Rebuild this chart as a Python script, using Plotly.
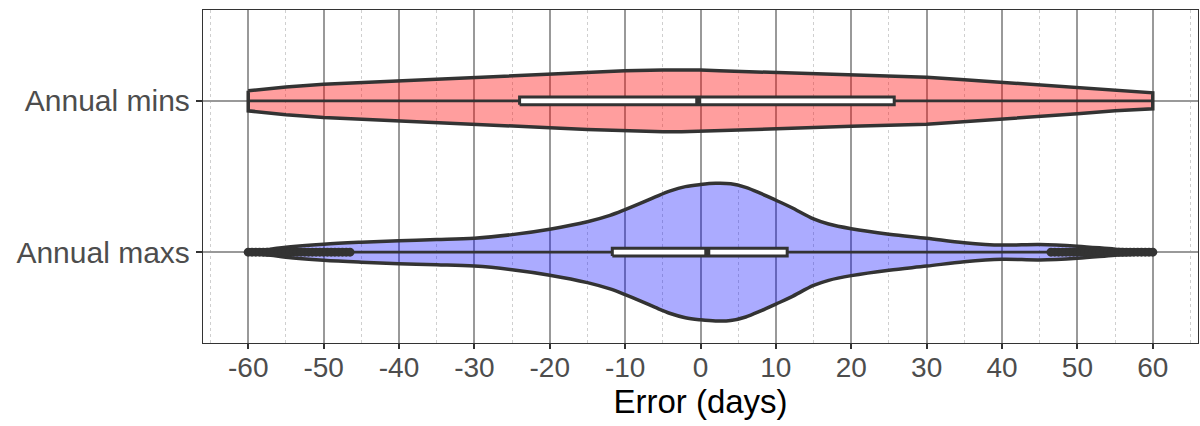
import plotly.graph_objects as go

# ---------------- data ----------------
categories = ["Annual maxs", "Annual mins"]
cat_pos = [1, 2]

# violin half-widths (in category units)
mins_x = [-60, -55, -50, -40, -30, -20, -15, -10, -5, -2.5, 0, 2.5, 5, 10, 20, 30, 35, 40,
          50, 55, 60]
mins_hw = [0.066, 0.092, 0.110, 0.132, 0.155, 0.178, 0.189, 0.198, 0.204, 0.205, 0.203,
           0.199, 0.195, 0.183, 0.168, 0.155, 0.139, 0.122, 0.086, 0.066, 0.053]

maxs_x = [-60, -57, -55, -50, -45, -40, -35, -30, -25, -20, -15, -12, -10, -8, -6, -4, -2,
          0, 2, 4, 6, 8, 10, 12, 15, 17, 20, 25, 30, 35, 40, 45, 50, 55, 60]
maxs_hw = [0.003, 0.02, 0.033, 0.053, 0.066, 0.076, 0.083, 0.092, 0.116, 0.152, 0.201,
           0.243, 0.281, 0.322, 0.365, 0.405, 0.433, 0.447, 0.455, 0.452, 0.428, 0.388,
           0.343, 0.297, 0.220, 0.186, 0.155, 0.119, 0.092, 0.063, 0.047, 0.051, 0.04,
           0.02, 0.003]

# box statistics
box_q1 = [-11.7, -24.0]
box_median = [0.9, -0.3]
box_q3 = [11.5, 25.7]
box_low = [-46.5, -60.0]
box_high = [46.5, 60.0]

# outliers of the annual maxs
maxs_outliers = [-60, -59.5, -59, -58.5, -58, -57.5, -57, -56.5, -56, -55.5, -55, -54.5,
                 -54, -53.5, -53, -52.5, -52, -51.5, -51, -50.5, -50, -49.5, -49, -48.5,
                 -48, -47.5, -47, -46.5,
                 46.5, 47, 47.5, 48, 48.5, 49, 49.5, 50, 50.5, 51, 51.5, 52, 52.5, 53,
                 53.5, 54, 54.5, 55, 55.5, 56, 56.5, 57, 57.5, 58, 58.5, 59, 59.5, 60]

x_ticks = [-60, -50, -40, -30, -20, -10, 0, 10, 20, 30, 40, 50, 60]
x_ticktext = ["-60", "-50", "-40", "-30", "-20", "-10", "0", "10", "20", "30", "40", "50", "60"]
x_minor = [-65, -55, -45, -35, -25, -15, -5, 5, 15, 25, 35, 45, 55, 65]

# ---------------- styling ----------------
DARK = "#333333"
fills = {"Annual mins": "rgba(255,0,0,0.38)", "Annual maxs": "rgba(0,0,255,0.33)"}
BOX_HALF = 0.026

fig = go.Figure()


def violin(xs, hws, center, fill, shape, smoothing):
    px = list(xs) + list(reversed(xs)) + [xs[0]]
    py = [center + h for h in hws] + [center - h for h in reversed(hws)] + [center + hws[0]]
    fig.add_trace(go.Scatter(x=px, y=py, mode="lines", fill="toself", fillcolor=fill,
                             line=dict(color=DARK, width=3.5, shape=shape, smoothing=smoothing),
                             hoverinfo="skip", showlegend=False))


violin(mins_x, mins_hw, cat_pos[1], fills["Annual mins"], "linear", 0)
violin(maxs_x, maxs_hw, cat_pos[0], fills["Annual maxs"], "spline", 1.0)

for i, c in enumerate(categories):
    yc = cat_pos[i]
    # whiskers
    fig.add_trace(go.Scatter(x=[box_low[i], box_q1[i], None, box_q3[i], box_high[i]],
                             y=[yc, yc, None, yc, yc], mode="lines",
                             line=dict(color=DARK, width=2.8),
                             showlegend=False, hoverinfo="skip"))
    # box
    fig.add_trace(go.Scatter(x=[box_q1[i], box_q3[i], box_q3[i], box_q1[i], box_q1[i]],
                             y=[yc - BOX_HALF, yc - BOX_HALF, yc + BOX_HALF, yc + BOX_HALF,
                                yc - BOX_HALF],
                             mode="lines", fill="toself", fillcolor="white",
                             line=dict(color=DARK, width=3),
                             showlegend=False, hoverinfo="skip"))
    # thicker median line
    fig.add_trace(go.Scatter(x=[box_median[i], box_median[i]],
                             y=[yc - BOX_HALF, yc + BOX_HALF],
                             mode="lines", line=dict(color=DARK, width=6),
                             showlegend=False, hoverinfo="skip"))

fig.add_trace(go.Scatter(x=maxs_outliers, y=[cat_pos[0]] * len(maxs_outliers),
                         mode="markers", marker=dict(color=DARK, size=9, line=dict(width=0)),
                         showlegend=False, hoverinfo="skip"))

FONT = "Liberation Sans, Arial, sans-serif"
fig.update_layout(
    width=1200, height=426,
    margin=dict(l=203, r=2, t=10, b=83, autoexpand=False),
    plot_bgcolor="white", paper_bgcolor="white",
    font=dict(family=FONT),
    xaxis=dict(
        range=[-66, 66], tickmode="array", tickvals=x_ticks, ticktext=x_ticktext,
        showgrid=True, gridcolor="#999999", gridwidth=2, zeroline=False,
        minor=dict(tickvals=x_minor, showgrid=True, gridcolor="#cfcfcf",
                   gridwidth=1, griddash="3px,3px", ticks=""),
        ticks="outside", ticklen=5, tickwidth=1.5, tickcolor=DARK,
        tickfont=dict(size=28, color="#4d4d4d", family=FONT),
        ticklabelstandoff=-6,
        showline=True, mirror=True, linecolor=DARK, linewidth=1.3,
        automargin=False,
        title=dict(text="Error (days)", font=dict(size=33, color="black", family=FONT),
                   standoff=2),
    ),
    yaxis=dict(
        range=[0.4, 2.6], tickmode="array", tickvals=cat_pos, ticktext=categories,
        showgrid=True, gridcolor="#999999", gridwidth=2, zeroline=False,
        ticks="outside", ticklen=6, tickwidth=1.5, tickcolor=DARK,
        tickfont=dict(size=30, color="#4d4d4d", family=FONT),
        showline=True, mirror=True, linecolor=DARK, linewidth=1.3,
        automargin=False,
    ),
)

fig.write_html("out.html", config={"displayModeBar": False},
               post_script="document.body.style.margin='0';document.body.style.overflow='hidden';")
